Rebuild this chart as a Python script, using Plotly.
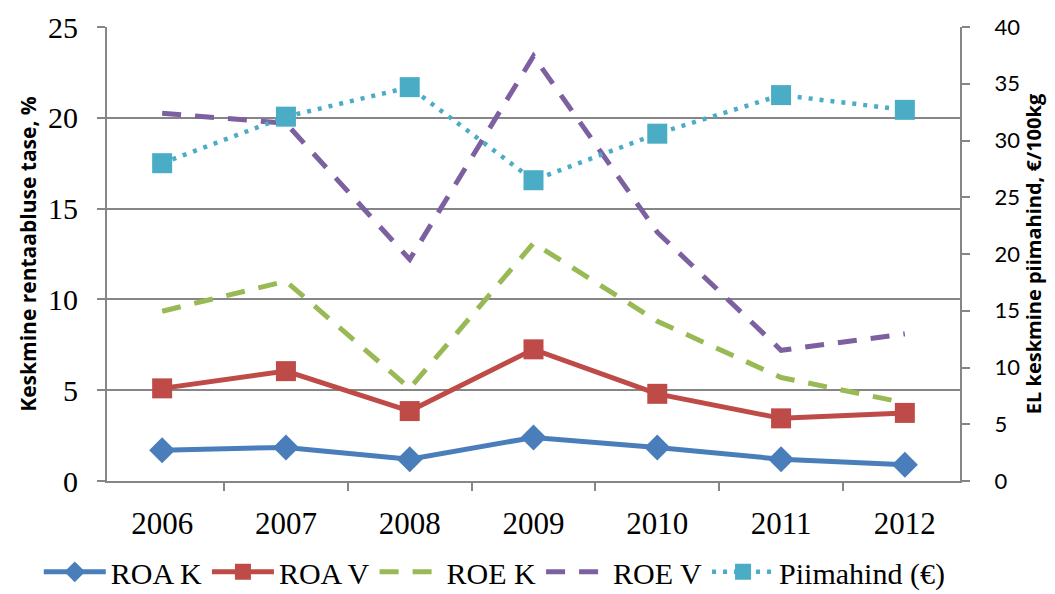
import plotly.graph_objects as go

years = ["2006", "2007", "2008", "2009", "2010", "2011", "2012"]
roa_k = [1.7, 1.85, 1.2, 2.4, 1.85, 1.2, 0.9]
roa_v = [5.1, 6.05, 3.85, 7.25, 4.8, 3.45, 3.75]
roe_k = [9.35, 11.0, 5.1, 13.1, 8.8, 5.7, 4.3]
roe_v = [20.25, 19.7, 12.2, 23.4, 13.7, 7.2, 8.1]
piim = [28.0, 32.1, 34.7, 26.5, 30.6, 34.0, 32.7]

fig = go.Figure()
fig.add_trace(go.Scatter(x=years, y=roa_k, name="ROA K", mode="lines+markers",
                         line=dict(color="#4a7ebb", width=5),
                         marker=dict(symbol="diamond", size=20, color="#4a7ebb")))
fig.add_trace(go.Scatter(x=years, y=roa_v, name="ROA V", mode="lines+markers",
                         line=dict(color="#be4b48", width=5),
                         marker=dict(symbol="square", size=20, color="#be4b48")))
fig.add_trace(go.Scatter(x=years, y=roe_k, name="ROE K", mode="lines",
                         line=dict(color="#98b954", width=5, dash="19px,14px")))
fig.add_trace(go.Scatter(x=years, y=roe_v, name="ROE V", mode="lines",
                         line=dict(color="#7d60a0", width=5, dash="19px,14px")))
fig.add_trace(go.Scatter(x=years, y=piim, name="Piimahind (€)", mode="lines+markers",
                         yaxis="y2",
                         line=dict(color="#4bacc6", width=4.5, dash="4px,7px"),
                         marker=dict(symbol="square", size=20, color="#4bacc6")))

axis_gray = "#868686"
# page body adds an 8px margin, so the figure is sized/offset to compensate
fig.update_layout(
    width=1047, height=586,
    margin=dict(l=99, r=95, t=19, b=113, autoexpand=False),
    plot_bgcolor="white", paper_bgcolor="white",
    showlegend=True,
    legend=dict(orientation="h", x=-0.08, xanchor="left", y=-0.2, yanchor="middle",
                font=dict(family="Liberation Serif", size=30, color="black"),
                itemwidth=62, tracegroupgap=0),
    xaxis=dict(type="category", showline=True, linecolor=axis_gray, linewidth=2,
               ticks="outside", tickson="boundaries", ticklen=8, tickcolor=axis_gray, tickwidth=1.5,
               showgrid=False, automargin=False,
               tickfont=dict(family="Liberation Serif", size=31, color="black"),
               ticklabelstandoff=14),
    yaxis=dict(range=[0, 25], dtick=5, showline=True, linecolor=axis_gray, linewidth=2,
               ticks="outside", ticklen=8, tickcolor=axis_gray, tickwidth=1.5,
               showgrid=True, gridcolor=axis_gray, gridwidth=2, zeroline=False,
               automargin=False,
               tickfont=dict(family="Liberation Serif", size=30, color="black"),
               ticklabelstandoff=13,
               title=dict(text="<b>Keskmine rentaabluse tase, %</b>",
                          font=dict(family="Open Sans", size=21, color="black"), standoff=6)),
    yaxis2=dict(range=[0, 40], dtick=5, overlaying="y", side="right",
                showline=True, linecolor=axis_gray, linewidth=2,
                ticks="outside", ticklen=8, tickcolor=axis_gray, tickwidth=1.5,
                showgrid=False, zeroline=False, automargin=False,
                tickfont=dict(family="Lato", size=22, color="black"),
                ticklabelstandoff=20,
                title=dict(text="<b>EL keskmine piimahind, €/100kg</b>",
                           font=dict(family="Open Sans", size=20, color="black"), standoff=2)),
)

fig.write_html("out.html")
